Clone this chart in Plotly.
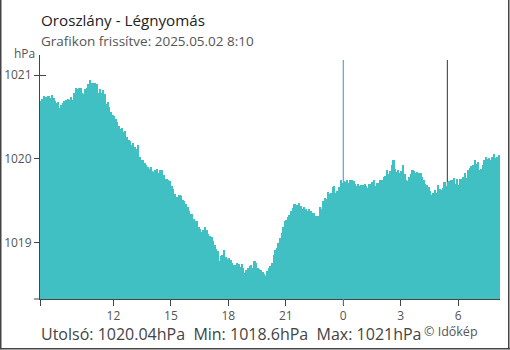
import pandas as pd
import plotly.graph_objects as go

# ---------------- data ----------------
START = "2025-05-01 08:10"
STEP = "5min"

# 08:10 - 11:35 (previous day morning)
p_morning = [
    1020.69, 1020.71, 1020.75, 1020.74, 1020.72, 1020.75, 1020.73, 1020.76, 1020.73, 1020.69,
    1020.67, 1020.68, 1020.61, 1020.64, 1020.66, 1020.69, 1020.70, 1020.71, 1020.70, 1020.74,
    1020.70, 1020.79, 1020.84, 1020.83, 1020.85, 1020.85, 1020.78, 1020.77, 1020.83, 1020.84,
    1020.89, 1020.94, 1020.91, 1020.91, 1020.90, 1020.89, 1020.78, 1020.83, 1020.78, 1020.82,
    1020.77, 1020.65,
]
# 11:40 - 14:55
p_noon = [
    1020.68, 1020.62, 1020.56, 1020.52, 1020.51, 1020.48, 1020.44, 1020.39, 1020.36, 1020.37,
    1020.32, 1020.33, 1020.26, 1020.22, 1020.21, 1020.16, 1020.19, 1020.14, 1020.12, 1020.16,
    1020.02, 1019.99, 1019.98, 1019.95, 1019.92, 1019.90, 1019.88, 1019.90, 1019.85, 1019.84,
    1019.87, 1019.88, 1019.83, 1019.87, 1019.86, 1019.80, 1019.76, 1019.76, 1019.74, 1019.73,
]
# 15:00 - 18:20
p_afternoon = [
    1019.68, 1019.64, 1019.58, 1019.54, 1019.54, 1019.57, 1019.55, 1019.51, 1019.49, 1019.46,
    1019.42, 1019.38, 1019.34, 1019.34, 1019.28, 1019.25, 1019.25, 1019.18, 1019.16, 1019.12,
    1019.15, 1019.18, 1019.15, 1019.10, 1019.08, 1019.07, 1019.02, 1018.97, 1018.92, 1018.90,
    1018.78, 1018.84, 1018.85, 1018.91, 1018.82, 1018.80, 1018.81, 1018.79, 1018.75, 1018.73,
    1018.73,
]
# 18:25 - 21:50
p_evening = [
    1018.75, 1018.74, 1018.71, 1018.74, 1018.70, 1018.63, 1018.67, 1018.69, 1018.72, 1018.73,
    1018.70, 1018.78, 1018.76, 1018.69, 1018.68, 1018.67, 1018.65, 1018.62, 1018.60, 1018.66,
    1018.70, 1018.72, 1018.76, 1018.85, 1018.91, 1018.93, 1018.99, 1019.05, 1019.11, 1019.19,
    1019.25, 1019.27, 1019.30, 1019.33, 1019.37, 1019.41, 1019.46, 1019.44, 1019.45, 1019.47,
    1019.43, 1019.40,
]
# 21:55 - 01:15
p_night = [
    1019.42, 1019.40, 1019.38, 1019.40, 1019.37, 1019.34, 1019.35, 1019.32, 1019.31, 1019.32,
    1019.42, 1019.40, 1019.50, 1019.53, 1019.52, 1019.60, 1019.58, 1019.59, 1019.66, 1019.67,
    1019.59, 1019.61, 1019.66, 1019.75, 1019.71, 1019.73, 1019.72, 1019.74, 1019.71, 1019.74,
    1019.74, 1019.73, 1019.70, 1019.67, 1019.70, 1019.68, 1019.69, 1019.69, 1019.70, 1019.68,
    1019.65,
]
# 01:20 - 04:40
p_late_night = [
    1019.70, 1019.68, 1019.72, 1019.75, 1019.68, 1019.71, 1019.70, 1019.74, 1019.75, 1019.78,
    1019.79, 1019.87, 1019.82, 1019.85, 1019.93, 1019.99, 1019.88, 1019.84, 1019.87, 1019.83,
    1019.85, 1019.92, 1019.82, 1019.75, 1019.73, 1019.78, 1019.82, 1019.86, 1019.85, 1019.83,
    1019.84, 1019.83, 1019.83, 1019.78, 1019.74, 1019.70, 1019.69, 1019.66, 1019.62, 1019.57,
    1019.59,
]
# 04:45 - 08:05
p_dawn = [
    1019.63, 1019.59, 1019.69, 1019.64, 1019.63, 1019.65, 1019.72, 1019.67, 1019.72, 1019.73,
    1019.74, 1019.75, 1019.77, 1019.70, 1019.76, 1019.69, 1019.76, 1019.73, 1019.78, 1019.83,
    1019.77, 1019.86, 1019.89, 1019.91, 1019.93, 1019.98, 1019.94, 1019.96, 1019.86, 1019.88,
    1019.93, 1019.98, 1020.02, 1020.00, 1020.01, 1019.98, 1020.02, 1020.06, 1020.01, 1020.02,
    1020.04,
]

pressure = p_morning + p_noon + p_afternoon + p_evening + p_night + p_late_night + p_dawn
times = pd.date_range(START, periods=len(pressure), freq=STEP)

x_tick_vals = ["2025-05-01 08:10", "2025-05-01 12:00", "2025-05-01 15:00", "2025-05-01 18:00",
               "2025-05-01 21:00", "2025-05-02 00:00", "2025-05-02 03:00", "2025-05-02 06:00"]
x_tick_text = ["", "12", "15", "18", "21", "0", "3", "6"]
y_tick_vals = [1019, 1020, 1021]
y_tick_text = ["1019", "1020", "1021"]
midnight = "2025-05-02 00:00"
sunrise = "2025-05-02 05:26"

title_text = "Oroszlány - Légnyomás"
subtitle_text = "Grafikon frissítve: 2025.05.02 8:10"
unit_text = "hPa"
stats_text = "Utolsó: 1020.04hPa\u00a0\u00a0Min: 1018.6hPa\u00a0\u00a0Max: 1021hPa"
credit_text = "© Időkép"

# ---------------- style ----------------
BAR_COLOR = "#40C0C2"
AXIS_COLOR = "#444444"
LABEL_COLOR = "#555555"
BLUE = "#3B8ED0"
FONT = "Open Sans"
W, H = 510, 350
ML, MR, MT, MB = 40, 10, 55, 51
PW, PH = W - ML - MR, H - MT - MB
Y_RANGE = [1018.324, 1021.239]
X_RANGE = ["2025-05-01 08:10", "2025-05-02 08:11"]
BAR_WIDTH_MS = 330000  # slightly wider than the 5-min step to avoid seams


def px(xp):
    return (xp - ML) / PW


def py(yp):
    return (H - MB - yp) / PH


fig = go.Figure()
fig.add_trace(go.Bar(
    x=times, y=pressure, offset=0, width=BAR_WIDTH_MS,
    marker=dict(color=BAR_COLOR, line=dict(width=0)),
    hoverinfo="skip", showlegend=False,
))
# helper trace so the overlay axis (inner tick marks) is drawn
fig.add_trace(go.Scatter(x=[None], y=[None], yaxis="y2", showlegend=False, hoverinfo="skip"))

fig.update_layout(
    width=W, height=H,
    margin=dict(l=ML, r=MR, t=MT, b=MB, pad=0, autoexpand=False),
    paper_bgcolor="white", plot_bgcolor="white",
    bargap=0, showlegend=False,
    font=dict(family=FONT, color=LABEL_COLOR, size=12),
    xaxis=dict(
        type="date", range=X_RANGE, tickvals=x_tick_vals, ticktext=x_tick_text,
        ticks="outside", ticklen=6, tickwidth=1, tickcolor=AXIS_COLOR,
        showline=True, linecolor=AXIS_COLOR, linewidth=1,
        showgrid=False, zeroline=False, automargin=False,
        tickfont=dict(size=12, color=LABEL_COLOR, family=FONT),
        fixedrange=True,
    ),
    yaxis=dict(
        range=Y_RANGE, tickvals=y_tick_vals, ticktext=y_tick_text,
        ticks="outside", ticklen=5, tickwidth=1, tickcolor=AXIS_COLOR,
        showline=True, linecolor=AXIS_COLOR, linewidth=1,
        showgrid=False, zeroline=False, automargin=False,
        tickfont=dict(size=12, color=LABEL_COLOR, family=FONT),
    ),
    yaxis2=dict(
        overlaying="y", side="left", range=Y_RANGE, tickvals=y_tick_vals,
        ticks="inside", ticklen=6, tickwidth=1, tickcolor=AXIS_COLOR,
        showticklabels=False, showline=False, showgrid=False, zeroline=False,
        automargin=False, layer="below traces",
    ),
)

shapes = [
    # midnight and sunrise markers (behind the bars)
    dict(type="line", xref="x", yref="paper", x0=midnight, x1=midnight, y0=0, y1=py(60),
         line=dict(color=BLUE, width=1), layer="below"),
    dict(type="line", xref="x", yref="paper", x0=sunrise, x1=sunrise, y0=0, y1=py(60),
         line=dict(color="#333333", width=1), layer="below"),
    # blue tick at midnight
    dict(type="line", xref="x", yref="paper", x0=midnight, x1=midnight, y0=0, y1=py(H - MB + 6),
         line=dict(color=BLUE, width=1), layer="above"),
    # x-axis line extending left past y-axis
    dict(type="line", xref="paper", yref="paper", x0=px(34), x1=0, y0=0, y1=0,
         line=dict(color=AXIS_COLOR, width=1)),
    # frame (left, right, bottom)
    dict(type="line", xref="paper", yref="paper", x0=px(0.75), x1=px(0.75), y0=py(0), y1=py(349.25),
         line=dict(color=AXIS_COLOR, width=1.5)),
    dict(type="line", xref="paper", yref="paper", x0=px(508.75), x1=px(508.75), y0=py(0), y1=py(349.25),
         line=dict(color=AXIS_COLOR, width=1.5)),
    dict(type="line", xref="paper", yref="paper", x0=px(0), x1=px(510), y0=py(348.75), y1=py(348.75),
         line=dict(color=AXIS_COLOR, width=1.5)),
]
fig.update_layout(shapes=shapes)

annotations = [
    dict(text=title_text, x=px(40), y=py(19.5), xanchor="left", yanchor="middle",
         font=dict(size=15.2, color="#222222", family=FONT)),
    dict(text=subtitle_text, x=px(40), y=py(40.5), xanchor="left", yanchor="middle",
         font=dict(size=13.5, color=LABEL_COLOR, family=FONT)),
    dict(text=unit_text, x=px(35.5), y=py(53), xanchor="right", yanchor="middle",
         font=dict(size=12, color=LABEL_COLOR, family=FONT)),
    dict(text=stats_text, x=px(40), y=py(333.5), xanchor="left", yanchor="middle",
         font=dict(size=16, color="#444444", family=FONT)),
    dict(text=credit_text, x=px(423), y=py(331.5), xanchor="left", yanchor="middle",
         font=dict(size=12.5, color=LABEL_COLOR, family=FONT)),
]
for a in annotations:
    a.update(xref="paper", yref="paper", showarrow=False, borderpad=0)
fig.update_layout(annotations=annotations)

fig.write_html("out.html")
